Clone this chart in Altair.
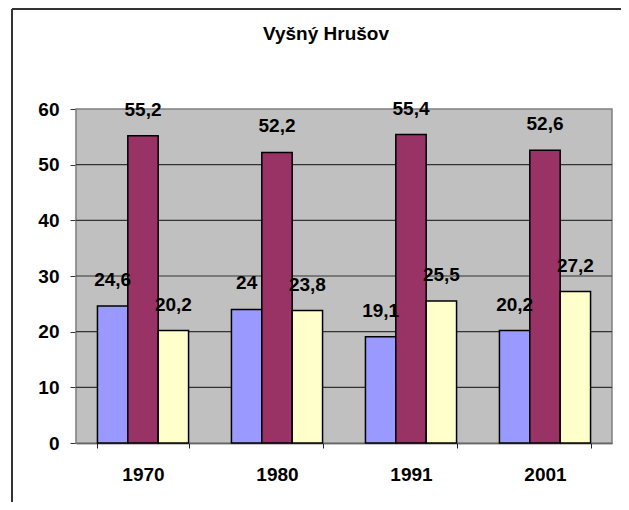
import altair as alt
import pandas as pd

title_text = "Vyšný Hrušov"
years = ["1970", "1980", "1991", "2001"]
series = ["predproduktívny vek", "produktívny vek", "poproduktívny vek"]
s1 = [24.6, 24, 19.1, 20.2]
s2 = [55.2, 52.2, 55.4, 52.6]
s3 = [20.2, 23.8, 25.5, 27.2]
colors = ["#9999FF", "#993366", "#FFFFCC"]
y_ticks = [0, 10, 20, 30, 40, 50, 60]
grid_lines = [10, 20, 30, 40, 50]

rows = []
for name, vals in zip(series, [s1, s2, s3]):
    for y, v in zip(years, vals):
        rows.append({"rok": y, "skupina": name, "hodnota": v,
                     "label": f"{v:g}".replace(".", ",")})
df = pd.DataFrame(rows)

FONT = "Liberation Sans"
W, H = 536, 334

yscale = alt.Scale(domain=[0, 60])
y_axis = alt.Axis(title=None, values=y_ticks, grid=False,
                  labelFont=FONT, labelFontWeight="bold", labelFontSize=19,
                  labelColor="#000", labelPadding=11, tickSize=6,
                  tickColor="#333", domainColor="#333", domainWidth=1.2)

x = alt.X("rok:N", sort=years,
          scale=alt.Scale(paddingInner=0.32, paddingOuter=0.16),
          axis=alt.Axis(title=None, labelAngle=0, tickBand="extent", grid=False,
                        labelFont=FONT, labelFontWeight="bold", labelFontSize=19,
                        labelColor="#000", labelPadding=17, tickSize=5,
                        tickColor="#222", domainColor="#111", domainWidth=1.5))
y = alt.Y("hodnota:Q", scale=yscale, axis=y_axis)
xo = alt.XOffset("skupina:N", sort=series)

one = pd.DataFrame({"t": [title_text]})

plot_bg = alt.Chart(one).mark_rect(fill="#C0C0C0", stroke="#808080", strokeWidth=1.5).encode(
    x=alt.value(0), x2=alt.value(W), y=alt.value(0), y2=alt.value(H))

grid = alt.Chart(pd.DataFrame({"hodnota": grid_lines})).mark_rule(
    color="#333333", strokeWidth=1.2).encode(
    y=alt.Y("hodnota:Q", scale=yscale, axis=y_axis),
    x=alt.value(0), x2=alt.value(W))

bars = alt.Chart(df).mark_bar(stroke="#000", strokeWidth=1.5).encode(
    x=x, y=y, xOffset=xo,
    color=alt.Color("skupina:N", sort=series,
                    scale=alt.Scale(domain=series, range=colors), legend=None),
)

labels = alt.Chart(df).mark_text(
    font=FONT, fontWeight="bold", fontSize=19, color="#000",
    baseline="alphabetic", align="center", dy=-20,
).encode(x=x, y=y, xOffset=xo, text="label:N")

title = alt.Chart(one).mark_text(
    font=FONT, fontWeight="bold", fontSize=19, color="#000",
    baseline="alphabetic", align="center",
).encode(x=alt.value(250), y=alt.value(-69.5), text="t:N")

border_left = alt.Chart(one).mark_rule(color="#333", strokeWidth=2).encode(
    x=alt.value(-64), y=alt.value(-100), y2=alt.value(400))
border_top = alt.Chart(one).mark_rule(color="#333", strokeWidth=2).encode(
    x=alt.value(-64), x2=alt.value(560), y=alt.value(-100))

chart = alt.layer(plot_bg, grid, bars, labels, title, border_left, border_top).properties(
    width=W, height=H,
    autosize=alt.AutoSizeParams(type="none"),
    padding={"left": 68, "top": 101, "right": 9, "bottom": 59},
    background="#FFFFFF",
).configure_view(stroke=None)

chart.save("out.html", embed_options={"renderer": "svg", "actions": False})
